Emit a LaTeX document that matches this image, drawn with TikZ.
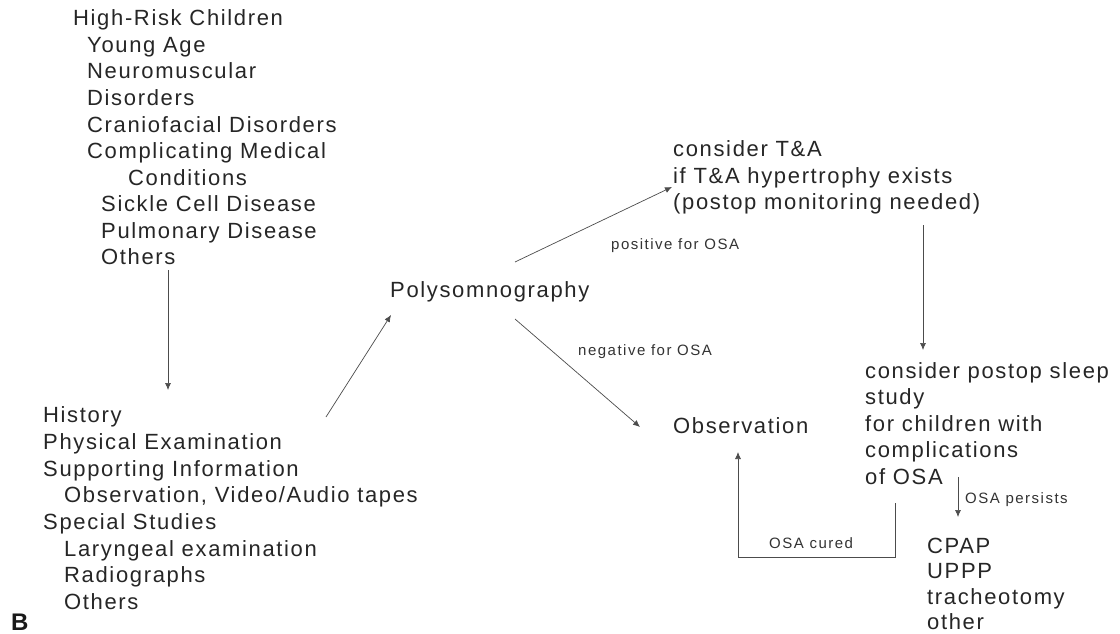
\documentclass[tikz,border=0pt]{standalone}
\usepackage{fontspec}
\setmainfont{Liberation Sans}
\newfontfamily\lsfont{Liberation Sans}[LetterSpace=7.5]
\newfontfamily\ssfont{Liberation Sans}[LetterSpace=10]
\usetikzlibrary{arrows.meta}
\tikzset{
 big/.style={anchor=base west, inner sep=0, font=\lsfont\fontsize{22}{24}\selectfont, text=black!85},
 small/.style={anchor=base west, inner sep=0, font=\ssfont\fontsize{15}{16}\selectfont, text=black!80},
 arr/.style={draw=black!70, line width=0.7pt, -{Latex[length=7pt,width=6pt]}},
 ln/.style={draw=black!70, line width=0.7pt}
}
\begin{document}
\begin{tikzpicture}[x=1pt,y=-1pt]
\useasboundingbox[fill=white] (0,0) rectangle (1120,634);
% high-risk list
\node[big] (r1) at (73,26) {High-Risk Children};
\node[big] (r2) at (87,52.5) {Young Age};
\node[big] (r3) at (87,79) {Neuromuscular};
\node[big] (r4) at (87,105.5) {Disorders};
\node[big] (r5) at (87,132) {Craniofacial Disorders};
\node[big] (r6) at (87,158.5) {Complicating Medical};
\node[big] (r7) at (128,185) {Conditions};
\node[big] (r8) at (101,211.5) {Sickle Cell Disease};
\node[big] (r9) at (101,238) {Pulmonary Disease};
\node[big] (r10) at (101,264.5) {Others};
% history list
\node[big] (h1) at (43,422.7) {History};
\node[big] (h2) at (43,449.3) {Physical Examination};
\node[big] (h3) at (43,476) {Supporting Information};
\node[big] (h4) at (64,502.7) {Observation, Video/Audio tapes};
\node[big] (h5) at (43,529.3) {Special Studies};
\node[big] (h6) at (64,556) {Laryngeal examination};
\node[big] (h7) at (64,582.7) {Radiographs};
\node[big] (h8) at (64,609.3) {Others};
\node[anchor=base west, inner sep=0, font=\bfseries\fontsize{24}{28}\selectfont, text=black!90] (lb) at (11,630) {B};
% centre
\node[big] (poly) at (390,297) {Polysomnography};
\node[big] (t1) at (673,157) {consider T\&A};
\node[big] (t2) at (673,183) {if T\&A hypertrophy exists};
\node[big] (t3) at (673,209) {(postop monitoring needed)};
\node[big] (obs) at (673,433) {Observation};
\node[big] (p1) at (865,378) {consider postop sleep};
\node[big] (p2) at (865,404.5) {study};
\node[big] (p3) at (865,431) {for children with};
\node[big] (p4) at (865,457.5) {complications};
\node[big] (p5) at (865,484) {of OSA};
\node[big] (c1) at (927,553) {CPAP};
\node[big] (c2) at (927,578.5) {UPPP};
\node[big] (c3) at (927,604) {tracheotomy};
\node[big] (c4) at (927,629.5) {other};
% small labels
\node[small] (lpos) at (611,249) {positive for OSA};
\node[small] (lneg) at (578,355) {negative for OSA};
\node[small] (lcur) at (769,548) {OSA cured};
\node[small] (lper) at (965,503) {OSA persists};
% connector end points
\coordinate (a1s) at (168,270);
\coordinate (a1e) at (168,390);
\coordinate (a2s) at (326,417);
\coordinate (a2e) at (391,315);
\coordinate (a3s) at (515,262);
\coordinate (a3e) at (672,187);
\coordinate (a4s) at (515,319);
\coordinate (a4e) at (640,427);
\coordinate (a5s) at (923,225);
\coordinate (a5e) at (923,350);
\coordinate (a6s) at (958,477);
\coordinate (a6e) at (958,517);
\coordinate (a7s) at (895,503);
\coordinate (a7e) at (738,452);
\draw[arr] (a1s) -- (a1e);
\draw[arr] (a2s) -- (a2e);
\draw[arr] (a3s) -- (a3e);
\draw[arr] (a4s) -- (a4e);
\draw[arr] (a5s) -- (a5e);
\draw[arr] (a6s) -- (a6e);
\draw[arr] (a7s) -- (a7s |- 0,557) -- (a7e |- 0,557) -- (a7e);
\end{tikzpicture}
\end{document}
